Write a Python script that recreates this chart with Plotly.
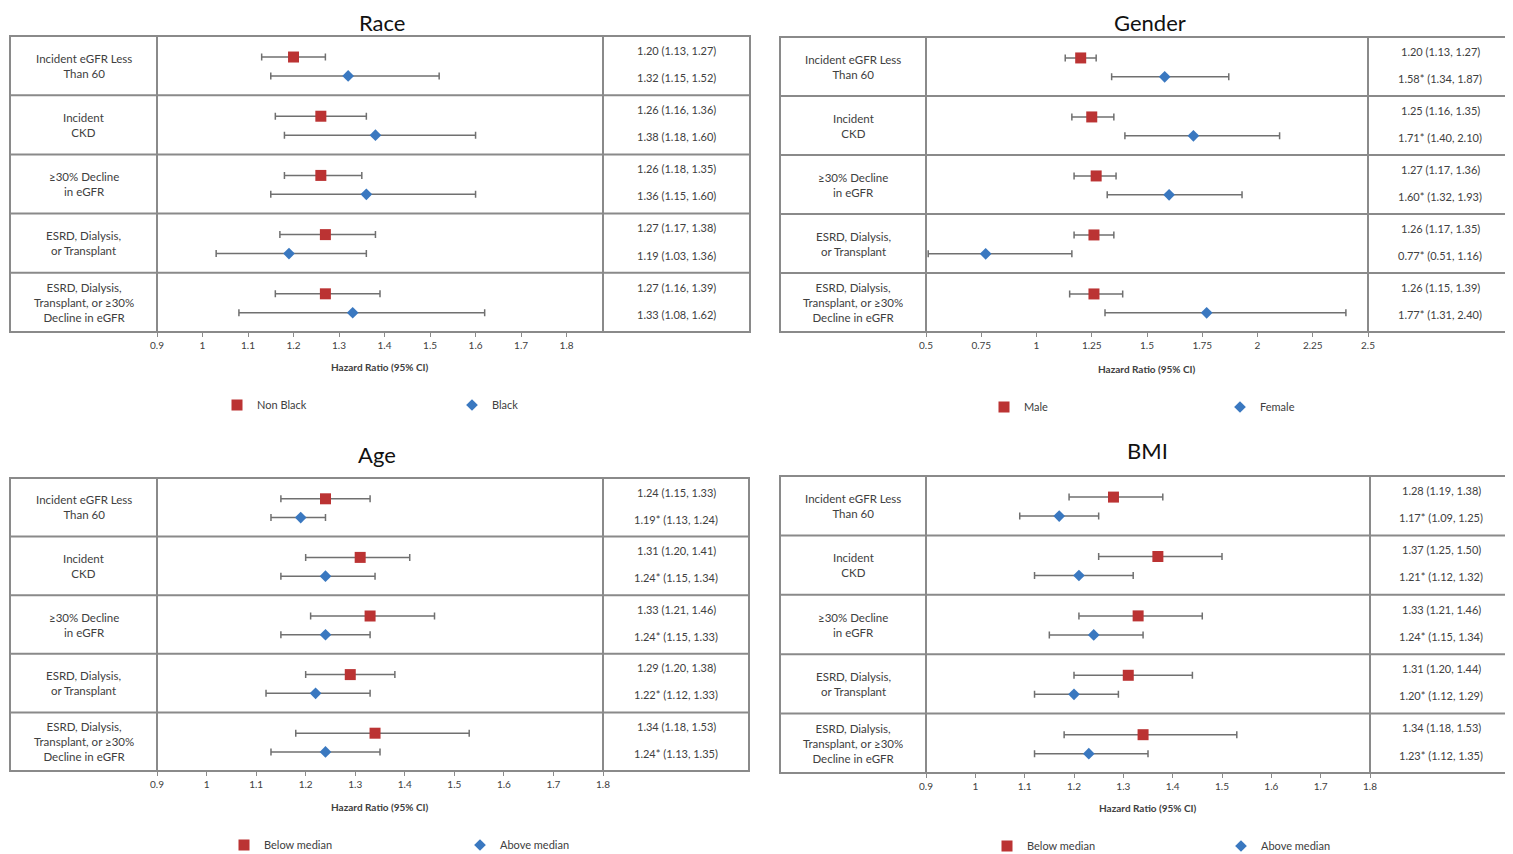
import plotly.graph_objects as go

# page offset of the plot div inside the browser page (default body margin)
OFF = 8
W, H = 1513 - OFF, 854 - OFF
FONT = "Lato"

outcomes = ["Incident eGFR Less<br>Than 60", "Incident<br>CKD", "≥30% Decline<br>in eGFR",
            "ESRD, Dialysis,<br>or Transplant", "ESRD, Dialysis,<br>Transplant, or ≥30%<br>Decline in eGFR"]

# ---- Race ----
race_names = ["Non Black", "Black"]
race_a_hr = [1.20, 1.26, 1.26, 1.27, 1.27]
race_a_lo = [1.13, 1.16, 1.18, 1.17, 1.16]
race_a_hi = [1.27, 1.36, 1.35, 1.38, 1.39]
race_b_hr = [1.32, 1.38, 1.36, 1.19, 1.33]
race_b_lo = [1.15, 1.18, 1.15, 1.03, 1.08]
race_b_hi = [1.52, 1.60, 1.60, 1.36, 1.62]
race_b_sig = [False, False, False, False, False]

# ---- Gender ----
gender_names = ["Male", "Female"]
gender_a_hr = [1.20, 1.25, 1.27, 1.26, 1.26]
gender_a_lo = [1.13, 1.16, 1.17, 1.17, 1.15]
gender_a_hi = [1.27, 1.35, 1.36, 1.35, 1.39]
gender_b_hr = [1.58, 1.71, 1.60, 0.77, 1.77]
gender_b_lo = [1.34, 1.40, 1.32, 0.51, 1.31]
gender_b_hi = [1.87, 2.10, 1.93, 1.16, 2.40]
gender_b_sig = [True, True, True, True, True]

# ---- Age ----
age_names = ["Below median", "Above median"]
age_a_hr = [1.24, 1.31, 1.33, 1.29, 1.34]
age_a_lo = [1.15, 1.20, 1.21, 1.20, 1.18]
age_a_hi = [1.33, 1.41, 1.46, 1.38, 1.53]
age_b_hr = [1.19, 1.24, 1.24, 1.22, 1.24]
age_b_lo = [1.13, 1.15, 1.15, 1.12, 1.13]
age_b_hi = [1.24, 1.34, 1.33, 1.33, 1.35]
age_b_sig = [True, True, True, True, True]

# ---- BMI ----
bmi_names = ["Below median", "Above median"]
bmi_a_hr = [1.28, 1.37, 1.33, 1.31, 1.34]
bmi_a_lo = [1.19, 1.25, 1.21, 1.20, 1.18]
bmi_a_hi = [1.38, 1.50, 1.46, 1.44, 1.53]
bmi_b_hr = [1.17, 1.21, 1.24, 1.20, 1.23]
bmi_b_lo = [1.09, 1.12, 1.15, 1.12, 1.12]
bmi_b_hi = [1.25, 1.32, 1.34, 1.29, 1.35]
bmi_b_sig = [True, True, True, True, True]

ticks_09_18 = [0.9, 1.0, 1.1, 1.2, 1.3, 1.4, 1.5, 1.6, 1.7, 1.8]
ticktext_09_18 = ["0.9", "1", "1.1", "1.2", "1.3", "1.4", "1.5", "1.6", "1.7", "1.8"]
ticks_gender = [0.5, 0.75, 1.0, 1.25, 1.5, 1.75, 2.0, 2.25, 2.5]
ticktext_gender = ["0.5", "0.75", "1", "1.25", "1.5", "1.75", "2", "2.25", "2.5"]

panels = [
    dict(title="Race", names=race_names,
         a=(race_a_hr, race_a_lo, race_a_hi), b=(race_b_hr, race_b_lo, race_b_hi), bsig=race_b_sig,
         ticks=ticks_09_18, ticktext=ticktext_09_18, rng=[0.9, 1.88],
         L=10, C1=157, C2=603, R=750, T=36, B=332, tx=382, ty=23, axy=367, legy=405, leg=(237, 472)),
    dict(title="Gender", names=gender_names,
         a=(gender_a_hr, gender_a_lo, gender_a_hi), b=(gender_b_hr, gender_b_lo, gender_b_hi), bsig=gender_b_sig,
         ticks=ticks_gender, ticktext=ticktext_gender, rng=[0.5, 2.5],
         L=780, C1=926, C2=1368, R=1512, T=37, B=332, tx=1150, ty=23, axy=369, legy=407, leg=(1004, 1240)),
    dict(title="Age", names=age_names,
         a=(age_a_hr, age_a_lo, age_a_hi), b=(age_b_hr, age_b_lo, age_b_hi), bsig=age_b_sig,
         ticks=ticks_09_18, ticktext=ticktext_09_18, rng=[0.9, 1.8],
         L=10, C1=157, C2=603, R=749, T=478, B=771, tx=377, ty=454, axy=807, legy=845, leg=(244, 480)),
    dict(title="BMI", names=bmi_names,
         a=(bmi_a_hr, bmi_a_lo, bmi_a_hi), b=(bmi_b_hr, bmi_b_lo, bmi_b_hi), bsig=bmi_b_sig,
         ticks=ticks_09_18, ticktext=ticktext_09_18, rng=[0.9, 1.8],
         L=780, C1=926, C2=1370, R=1512, T=476, B=773, tx=1147, ty=450, axy=808, legy=846, leg=(1007, 1241)),
]

RED = "#BB3333"
BLUE = "#3A78C0"
ERR = "#707070"
LINE = "#8A8A8A"
TXT = "#404040"

def px(x):
    return (x - OFF) / W

def py(y):
    return 1 - (y - OFF) / H

fig = go.Figure()
shapes = []
annotations = []
layout = {}
nrows = len(outcomes)
legend_idx = 0

for k, p in enumerate(panels):
    n = "" if k == 0 else str(k + 1)
    xa, ya = "x" + n, "y" + n
    rows = list(range(nrows))
    for si, (key, color, symbol, size, off) in enumerate(
            [("a", RED, "square", 11, 0.355), ("b", BLUE, "diamond", 9, 0.675)]):
        hr, lo, hi = p[key]
        legend_idx += 1
        lname = "legend" if legend_idx == 1 else "legend" + str(legend_idx)
        fig.add_trace(go.Scatter(
            x=hr, y=[r + off for r in rows], mode="markers", name=p["names"][si],
            marker=dict(color=color, symbol=symbol, size=size, line=dict(width=0)),
            error_x=dict(type="data", symmetric=False,
                         array=[h - e for h, e in zip(hi, hr)],
                         arrayminus=[e - l for e, l in zip(hr, lo)],
                         color=ERR, thickness=1.5, width=3.5),
            xaxis=xa, yaxis=ya, legend=lname, showlegend=True, hoverinfo="skip"))
        layout[lname] = dict(x=px(p["leg"][si] - 20), xanchor="left", y=py(p["legy"]), yanchor="middle",
                             orientation="h", bgcolor="rgba(0,0,0,0)", borderwidth=0,
                             font=dict(family=FONT, size=11, color=TXT), itemclick=False)
        # value text column
        sig = [False] * nrows if key == "a" else p["bsig"]
        toff = 0.24 if key == "a" else 0.70
        for r in rows:
            txt = f"{hr[r]:.2f}{'*' if sig[r] else ''} ({lo[r]:.2f}, {hi[r]:.2f})"
            annotations.append(dict(x=px((p["C2"] + p["R"]) / 2), xref="paper", y=r + toff, yref=ya,
                                    text=txt, showarrow=False, xanchor="center", yanchor="middle",
                                    font=dict(family=FONT, size=11, color=TXT)))
    # row labels
    for r in rows:
        annotations.append(dict(x=px((p["L"] + p["C1"]) / 2), xref="paper", y=r + 0.5, yref=ya,
                                text=outcomes[r], showarrow=False, xanchor="center", yanchor="middle",
                                font=dict(family=FONT, size=11.5, color=TXT)))
    # axes
    layout["xaxis" + n] = dict(domain=[px(p["C1"]), px(p["C2"])], range=p["rng"], anchor=ya,
                               tickvals=p["ticks"], ticktext=p["ticktext"], ticks="outside", ticklen=4,
                               tickcolor=LINE, showgrid=False, zeroline=False, showline=False,
                               automargin=False,
                               tickfont=dict(family=FONT, size=10, color=TXT), fixedrange=True)
    layout["yaxis" + n] = dict(domain=[py(p["B"]), py(p["T"])], range=[nrows, 0], anchor=xa,
                               showticklabels=False, showgrid=False, zeroline=False, ticks="",
                               automargin=False, fixedrange=True)
    # title and axis title
    annotations.append(dict(x=px(p["tx"]), y=py(p["ty"]), xref="paper", yref="paper", text=p["title"],
                            showarrow=False, xanchor="center", yanchor="middle",
                            font=dict(family=FONT, size=22, color="#111111")))
    annotations.append(dict(x=px((p["C1"] + p["C2"]) / 2), y=py(p["axy"]), xref="paper", yref="paper",
                            text="<b>Hazard Ratio (95% CI)</b>", showarrow=False, xanchor="center",
                            yanchor="middle", font=dict(family=FONT, size=10, color=TXT)))
    # table grid
    shapes.append(dict(type="rect", xref="paper", yref="paper", x0=px(p["L"]), x1=px(p["R"]),
                       y0=py(p["B"]), y1=py(p["T"]), line=dict(color=LINE, width=2)))
    for cx in (p["C1"], p["C2"]):
        shapes.append(dict(type="line", xref="paper", yref="paper", x0=px(cx), x1=px(cx),
                           y0=py(p["B"]), y1=py(p["T"]), line=dict(color=LINE, width=2)))
    for r in range(1, nrows):
        yy = p["T"] + r * (p["B"] - p["T"]) / nrows
        shapes.append(dict(type="line", xref="paper", yref="paper", x0=px(p["L"]), x1=px(p["R"]),
                           y0=py(yy), y1=py(yy), line=dict(color=LINE, width=2)))

fig.update_layout(width=W, height=H, autosize=False,
                  margin=dict(l=0, r=0, t=0, b=0, pad=0, autoexpand=False),
                  paper_bgcolor="white", plot_bgcolor="white", shapes=shapes, annotations=annotations,
                  font=dict(family=FONT), **layout)
fig.write_html("out.html")
